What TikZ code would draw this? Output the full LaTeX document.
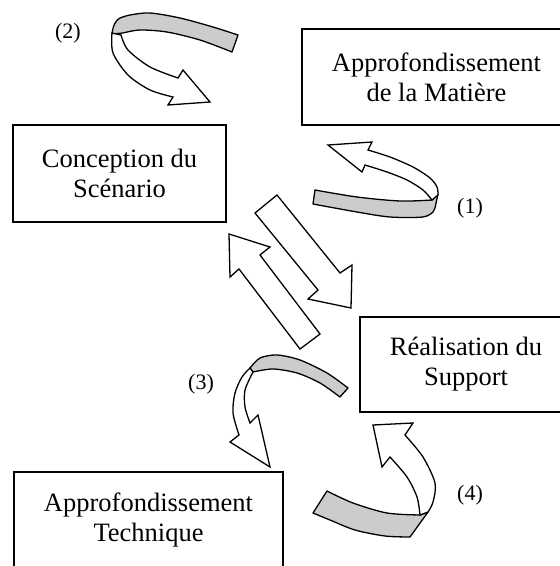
\documentclass[tikz,border=0pt]{standalone}
\usepackage{fontspec}
\setmainfont{Liberation Serif}
\definecolor{bandgray}{RGB}{204,204,204}

\begin{document}
\begin{tikzpicture}[x=1pt, y=-1pt,
        box/.style={draw, line width=1.6pt, align=center, inner sep=0pt,
            font=\fontsize{26.5}{30}\selectfont},
        lbl/.style={font=\fontsize{22}{26}\selectfont},
        band/.style={draw, fill=bandgray, line width=1.3pt, line join=round},
        body/.style={draw, fill=white, line width=1.3pt, line join=miter}]
        \useasboundingbox (0,0) rectangle (560,566);
        \node[box, minimum width=269pt, minimum height=96pt] (Matiere) at (436.5,77) {
            Approfondissement\\de la Matière
        };
        \node[box, minimum width=213pt, minimum height=97pt] (Scenario) at (119.5,173.5) {
            Conception du\\Scénario
        };
        \node[box, minimum width=212pt, minimum height=95pt] (Support) at (466,364.5) {
            Réalisation du\\Support
        };
        \node[box, minimum width=269pt, minimum height=95pt] (Technique) at (148.5,519.5) {
            Approfondissement\\Technique
        };
        \node[lbl] (label1) at (470,208) {(1)};
        \node[lbl] (label2) at (68,33) {(2)};
        \node[lbl] (label3) at (201,384) {(3)};
        \node[lbl] (label4) at (470,495) {(4)};
        % (2) Scenario -> Scenario
        \draw[band] (112,34) .. controls (113,25) and (116,20) .. (120,18)
            -- plot[smooth] coordinates {(120,18) (130,15) (150,13) (180,18) (213,27) (238,35)}
            -- (232,52)
            -- plot[smooth] coordinates {(232,52) (200,40) (167,32) (140,30) (123,33)}
            -- cycle;
        \draw[body] plot[smooth] coordinates {(112,33) (113,53) (128,75) (150,90) (173,97)}
            -- (168,105) -- (210,102) -- (183,70) -- (178,78)
            -- plot[smooth] coordinates {(178,78) (150,67) (128,50) (121,35)}
            -- cycle;
        % (1) Matiere -> Scenario
        \draw[band] plot[smooth] coordinates {(315,190) (357,197) (400,201) (432,200)}
            -- (438,194) -- (435,208) -- (433,212)
            -- plot[smooth] coordinates {(433,212) (423,217) (390,217) (357,212) (313,204)}
            -- cycle;
        \draw[body] plot[smooth] coordinates {(438,195) (437,187) (430,178) (413,167) (390,157) (368,150)}
            -- (372,142) -- (328,145) -- (362,172) -- (365,165)
            -- plot[smooth] coordinates {(365,165) (387,172) (407,180) (423,190) (432,200)}
            -- cycle;
        % Scenario <-> Support
        \draw[body] (255,213) -- (277,195) -- (340,273) -- (352,265) -- (351,308)
            -- (308,299) -- (318,290) -- cycle;
        \draw[body] (229,234) -- (270,247) -- (260,255) -- (320,334) -- (300,349)
            -- (239,269) -- (230,277) -- cycle;
        % (3) Support -> Technique
        \draw[band] plot[smooth] coordinates {(348,388) (327,373) (300,360) (277,355) (260,358) (250,368)}
            -- (253,372)
            -- plot[smooth] coordinates {(253,372) (273,369) (297,373) (320,383) (340,397)}
            -- cycle;
        \draw[body] plot[smooth] coordinates {(250,368) (242,377) (235,393) (233,413) (239,435)}
            -- (230,442) -- (270,467) -- (258,415) -- (250,423)
            -- plot[smooth] coordinates {(250,423) (245,407) (245,390) (253,372)}
            -- cycle;
        % (4) Technique -> Support
        \draw[band] (428,512) -- (410,537)
            -- plot[smooth] coordinates {(410,537) (385,536) (355,530) (330,520) (313,513)}
            -- (327,491)
            -- plot[smooth] coordinates {(327,491) (353,503) (387,513) (420,515)}
            -- cycle;
        \draw[body] (373,425) -- (413,423) -- (405,435)
            -- plot[smooth] coordinates {(405,435) (423,457) (435,483) (433,502) (428,512)}
            -- (420,515)
            -- plot[smooth] coordinates {(420,515) (417,497) (407,477) (390,457)}
            -- (382,467) -- cycle;
    \end{tikzpicture}
\end{document}
